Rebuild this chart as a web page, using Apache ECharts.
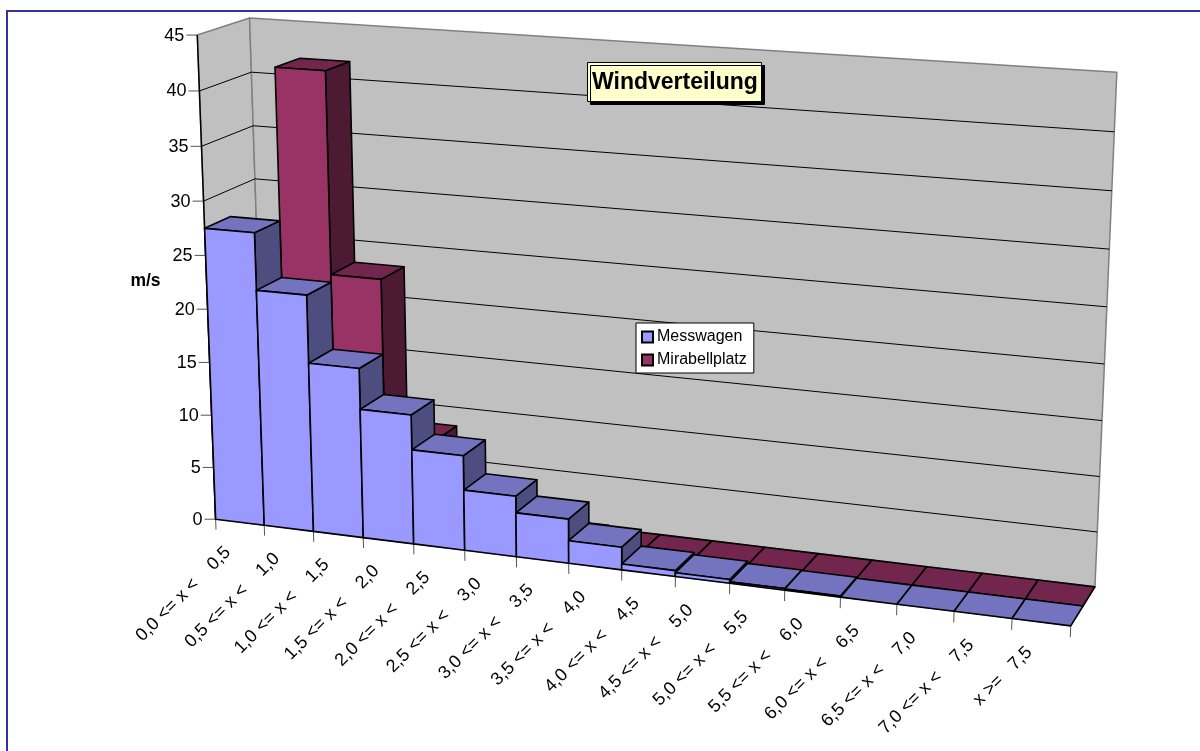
<!DOCTYPE html>
<html>
<head>
<meta charset="utf-8">
<style>
  html, body { margin: 0; padding: 0; background: #fff; }
  #chart { width: 1200px; height: 751px; }
</style>
<script src="https://cdn.jsdelivr.net/npm/echarts@6/dist/echarts.min.js"></script>
</head>
<body>
<div id="chart"></div>
<script>
// Wind speed distribution, two measuring stations.
const categories = [
  '0,0 <= x <    0,5', '0,5 <= x <    1,0', '1,0 <= x <    1,5', '1,5 <= x <    2,0',
  '2,0 <= x <    2,5', '2,5 <= x <    3,0', '3,0 <= x <    3,5', '3,5 <= x <    4,0',
  '4,0 <= x <    4,5', '4,5 <= x <    5,0', '5,0 <= x <    5,5', '5,5 <= x <    6,0',
  '6,0 <= x <    6,5', '6,5 <= x <    7,0', '7,0 <= x <    7,5', 'x >=   7,5'
];
const messwagen =     [27.5, 22.2, 15.9, 12.1, 8.85, 5.65, 4.1, 2.1, 0.55, 0.35, 0.15, 0.1, 0, 0, 0, 0];
const mirabellplatz = [20, 41.6, 22.9, 8.2, 3, 1.5, 0.3, 0, 0, 0, 0, 0, 0, 0, 0, 0];
const valueTicks = [0, 5, 10, 15, 20, 25, 30, 35, 40, 45];

const VALUE_MAX = 45;
const GRID = { left: 100, top: 100, width: 800, height: 450 };

// Camera calibration: [slot, value, depth] -> screen position of the chart box.
const CAMERA_REFS = [
  [[0, 45, 0], [198, 35]], [[0, 0, 0], [216.5, 519]], [[0, 40, 0], [199.5, 91]],
  [[0, 30, 0], [203, 201]], [[0, 20, 0], [207, 310]], [[0, 10, 0], [211, 415]],
  [[0, 45, 1], [250, 18]], [[0, 40, 1], [251, 72]], [[0, 30, 1], [255, 179]],
  [[16, 45, 1], [1117, 72]], [[16, 40, 1], [1114, 132]], [[16, 0, 1], [1095, 587]],
  [[16, 0, 0.5], [1083, 606]], [[16, 0, 0], [1071, 626]],
  [[4, 0, 0], [413.7, 543.7]], [[8, 0, 0], [622, 570]], [[13, 0, 0], [896.7, 604]],
  [[14, 0, 0], [954, 611]], [[15, 0, 0], [1012, 618.7]]
];

// Least-squares fit of a 3D -> 2D projective camera.
function fitCamera(refs) {
  const n = 11;
  const A = Array.from({ length: n }, () => new Array(n + 1).fill(0));
  const addRow = (r, b) => {
    for (let i = 0; i < n; i++) {
      for (let j = 0; j < n; j++) A[i][j] += r[i] * r[j];
      A[i][n] += r[i] * b;
    }
  };
  // Scaled inputs keep the normal equations well conditioned.
  refs.forEach(([[sx, sz, sy], [u, v]]) => {
    const X = sx / 16, Z = sz / 45, Y = sy;
    addRow([X, Z, Y, 1, 0, 0, 0, 0, -u * X, -u * Z, -u * Y], u);
    addRow([0, 0, 0, 0, X, Z, Y, 1, -v * X, -v * Z, -v * Y], v);
  });
  for (let c = 0; c < n; c++) {
    let p = c;
    for (let r = c + 1; r < n; r++) if (Math.abs(A[r][c]) > Math.abs(A[p][c])) p = r;
    [A[c], A[p]] = [A[p], A[c]];
    for (let r = 0; r < n; r++) {
      if (r === c) continue;
      const f = A[r][c] / A[c][c];
      for (let k = c; k <= n; k++) A[r][k] -= f * A[c][k];
    }
  }
  const m = A.map((row, i) => row[n] / row[i]);
  return (slot, value, depth) => {
    const X = slot / 16, Z = value / 45, Y = depth;
    const w = m[8] * X + m[9] * Z + m[10] * Y + 1;
    return [
      (m[0] * X + m[1] * Z + m[2] * Y + m[3]) / w,
      (m[4] * X + m[5] * Z + m[6] * Y + m[7]) / w
    ];
  };
}
const camera = fitCamera(CAMERA_REFS);

// Convert a pixel of the flat grid (from the axis scales) to the projected view.
function projector(api) {
  const bandWidth = api.size([1, 0])[0];
  const slotLeft = api.coord([0, 0])[0] - bandWidth / 2;
  const base = api.coord([0, 0])[1];
  const unit = (base - api.coord([0, VALUE_MAX])[1]) / VALUE_MAX;
  return (pt, depth) => camera((pt[0] - slotLeft) / bandWidth, (base - pt[1]) / unit, depth);
}

function poly(points, fill, stroke, width) {
  return {
    type: 'polygon',
    shape: { points },
    style: { fill, stroke: stroke || null, lineWidth: width === undefined ? 1.6 : width, lineJoin: 'round' }
  };
}
function seg(a, b, stroke, width) {
  return {
    type: 'line',
    shape: { x1: a[0], y1: a[1], x2: b[0], y2: b[1] },
    style: { stroke, lineWidth: width }
  };
}

function barRenderer(depthFront, depthBack, colors) {
  return function (params, api) {
    const idx = api.value(0), val = api.value(1);
    const project = projector(api);
    const half = api.size([1, 0])[0] / 2;
    const c0 = api.coord([idx, 0]), cv = api.coord([idx, val]);
    const x0 = c0[0] - half, x1 = c0[0] + half;
    const bl = [x0, c0[1]], br = [x1, c0[1]], tl = [x0, cv[1]], tr = [x1, cv[1]];
    const P = (p, d) => project(p, d);
    const children = [];
    if (val > 0) {
      children.push(poly([P(br, depthFront), P(br, depthBack), P(tr, depthBack), P(tr, depthFront)], colors.side, '#000'));
    }
    children.push(poly([P(tl, depthFront), P(tr, depthFront), P(tr, depthBack), P(tl, depthBack)], colors.top, '#000'));
    if (val > 0) {
      children.push(poly([P(bl, depthFront), P(br, depthFront), P(tr, depthFront), P(tl, depthFront)], colors.front, '#000'));
    }
    return { type: 'group', children };
  };
}

// Walls, floor, gridlines, axis ticks and axis labels.
function renderFrame(params, api) {
  const project = projector(api);
  const half = api.size([1, 0])[0] / 2;
  const at = (slot, value, depth) => {
    const c = api.coord([0, value]);
    return project([c[0] - half + slot * 2 * half, c[1]], depth);
  };
  const last = categories.length;
  const children = [
    poly([at(0, 0, 0), at(0, 0, 1), at(0, VALUE_MAX, 1), at(0, VALUE_MAX, 0)], '#C0C0C0', '#808080', 1.5),
    poly([at(0, 0, 1), at(last, 0, 1), at(last, VALUE_MAX, 1), at(0, VALUE_MAX, 1)], '#C0C0C0', '#808080', 1.5),
    poly([at(0, 0, 0), at(last, 0, 0), at(last, 0, 1), at(0, 0, 1)], '#C0C0C0', '#808080', 1)
  ];
  valueTicks.forEach(v => {
    if (v > 0 && v < VALUE_MAX) {
      children.push(seg(at(0, v, 0), at(0, v, 1), '#000', 1));
      children.push(seg(at(0, v, 1), at(last, v, 1), '#000', 1));
    }
    const p = at(0, v, 0);
    children.push(seg([p[0] - 11, p[1]], p, '#555', 1));
    children.push({
      type: 'text',
      x: p[0] - 13, y: p[1] + 0.5,
      style: { text: String(v), fill: '#000', font: '18px "Liberation Sans"', align: 'right', verticalAlign: 'middle' }
    });
  });
  children.push(seg(at(0, 0, 0), at(0, VALUE_MAX, 0), '#000', 1.5));
  for (let i = 0; i <= last; i++) {
    children.push(seg(at(i, 0, 0), at(i, -1, 0), '#555', 1));
  }
  categories.forEach((label, i) => {
    const p = at(i + 0.5, 0, 0);
    children.push({
      type: 'text',
      x: p[0] - 12, y: p[1] + 27.5,
      rotation: Math.PI / 4,
      originX: 0, originY: 0,
      style: { text: label, fill: '#000', font: '18px "Liberation Sans"', align: 'right', verticalAlign: 'middle' }
    });
  });
  children.push({
    type: 'text', x: 145.5, y: 281,
    style: { text: 'm/s', fill: '#000', font: 'bold 17.5px "Liberation Sans"', align: 'center', verticalAlign: 'middle' }
  });
  return { type: 'group', children };
}

const pairs = values => values.map((v, i) => [i, v]);

const chart = echarts.init(document.getElementById('chart'), null, { renderer: 'canvas' });
chart.setOption({
  animation: false,
  backgroundColor: '#fff',
  title: {
    text: 'Windverteilung',
    left: 587, top: 62,
    padding: [9, 4, 8, 5],
    backgroundColor: '#FFFFCC',
    borderColor: '#000', borderWidth: 1,
    shadowColor: '#000', shadowBlur: 0, shadowOffsetX: 3, shadowOffsetY: 3,
    textStyle: { fontFamily: 'Liberation Sans', fontWeight: 'bold', fontSize: 23, color: '#000' }
  },
  legend: {
    data: ['Messwagen', 'Mirabellplatz'],
    orient: 'vertical',
    left: 636, top: 323,
    padding: [6, 7, 5, 5],
    itemGap: 7,
    itemWidth: 11, itemHeight: 11,
    backgroundColor: '#fff',
    borderColor: '#000', borderWidth: 1,
    icon: 'rect',
    textStyle: { fontFamily: 'Liberation Sans', fontSize: 16, color: '#000', padding: [0, 0, 0, -1], lineHeight: 16 }
  },
  grid: GRID,
  xAxis: { type: 'category', data: categories, show: false },
  yAxis: { type: 'value', min: 0, max: VALUE_MAX, interval: 5, show: false },
  graphic: [
    { type: 'line', silent: true, z: 100, shape: { x1: 7, y1: 11, x2: 1200, y2: 11 }, style: { stroke: '#333399', lineWidth: 2 } },
    { type: 'line', silent: true, z: 100, shape: { x1: 7, y1: 10, x2: 7, y2: 751 }, style: { stroke: '#333399', lineWidth: 2 } }
  ],
  series: [
    { type: 'custom', name: 'frame', z: 1, clip: false, silent: true, renderItem: renderFrame, data: [[0, 0]], encode: { x: 0, y: 1 } },
    {
      type: 'custom', name: 'Mirabellplatz', z: 2, clip: false,
      itemStyle: { color: '#993366', borderColor: '#000', borderWidth: 1.5 },
      renderItem: barRenderer(0.5, 1, { front: '#993366', top: '#73264D', side: '#4D1A33' }),
      data: pairs(mirabellplatz), encode: { x: 0, y: 1 }
    },
    {
      type: 'custom', name: 'Messwagen', z: 3, clip: false,
      itemStyle: { color: '#9999FF', borderColor: '#000', borderWidth: 1.5 },
      renderItem: barRenderer(0, 0.5, { front: '#9999FF', top: '#7373BF', side: '#4D4D80' }),
      data: pairs(messwagen), encode: { x: 0, y: 1 }
    }
  ]
});
</script>
</body>
</html>
